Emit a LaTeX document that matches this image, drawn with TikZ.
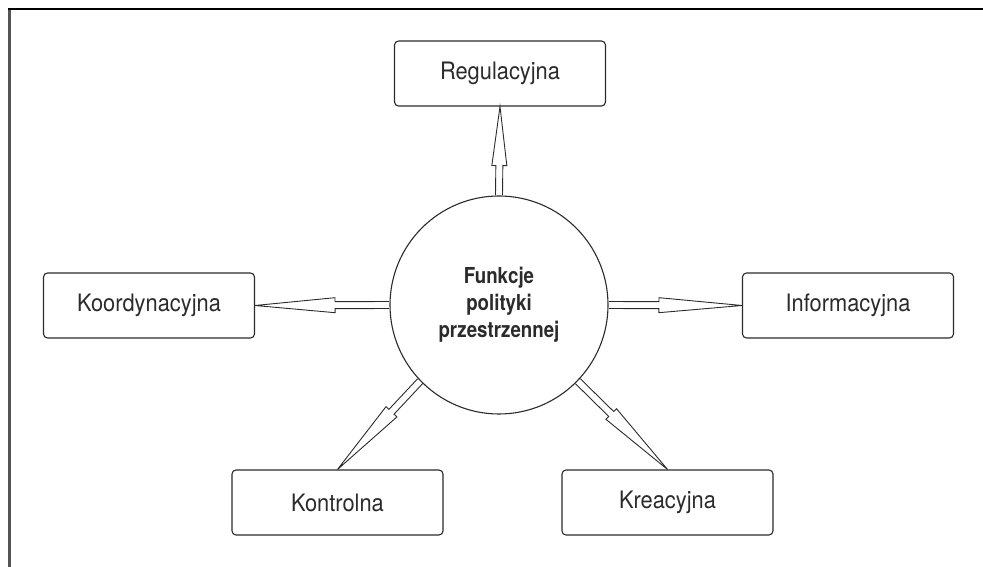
\documentclass[tikz,border=0pt]{standalone}
\usepackage{fontspec}
\setmainfont{TeX Gyre Heros}
\newfontfamily\boxfont{TeX Gyre Heros}[FakeStretch=0.91]
\newfontfamily\hubfont{TeX Gyre Heros}[FakeStretch=0.85]
\usepackage{tikz}
\usepackage{xcolor}
\usetikzlibrary{calc}
\definecolor{inkgray}{HTML}{2B2B2B}
\definecolor{framegray}{HTML}{555555}
\tikzset{
    func-box/.style = {draw=inkgray, fill=white, line width=1.1pt, rectangle, rounded corners=4pt, minimum width=211pt, minimum height=65pt, text=inkgray, font=\boxfont\fontsize{24}{29}\selectfont},
    main-circle/.style = {draw=inkgray, fill=white, line width=1.1pt, circle, minimum size=218pt, inner sep=0pt, align=center, text=inkgray, font=\hubfont\fontsize{22}{27}\selectfont\bfseries},
    hollow-arrow/.style = {draw=inkgray, line width=0.9pt, line join=miter},
}
\newcommand{\funarrow}[3]{%
  \coordinate (hb) at ($(#2)!#3!(#1)$);
  \draw[hollow-arrow] ($(#1)!3.5pt!90:(#2)$) -- ($(hb)!3.5pt!-90:(#1)$) -- ($(hb)!7.5pt!-90:(#1)$) -- (#2)
      -- ($(hb)!7.5pt!90:(#1)$) -- ($(hb)!3.5pt!90:(#1)$) -- ($(#1)!3.5pt!-90:(#2)$);
}

\begin{document}
\begin{tikzpicture}[x=1pt, y=1pt]
\useasboundingbox (0,0) rectangle (983,567);
% frame
\draw[framegray, line width=3pt] (9,0) -- (9,558);
\draw[black, line width=2pt] (8,558) -- (983,558);

\node [main-circle] (c) at (499,262) {Funkcje\\polityki\\przestrzennej};

\node [func-box] (reg) at (500,493.5) {Regulacyjna};
\node [func-box] (koo) at (149,261.5) {Koordynacyjna};
\node [func-box] (inf) at (848,261.5) {Informacyjna};
\node [func-box] (kon) at (337.5,64.5) {Kontrolna};
\node [func-box] (kre) at (667.5,64.5) {Kreacyjna};

\funarrow{c.north}{reg.south}{59pt}
\funarrow{c.west}{koo.east}{80pt}
\funarrow{c.east}{inf.west}{83pt}
\funarrow{c.224}{kon.north}{79pt}
\funarrow{c.-44}{kre.north}{79pt}
\end{tikzpicture}
\end{document}
